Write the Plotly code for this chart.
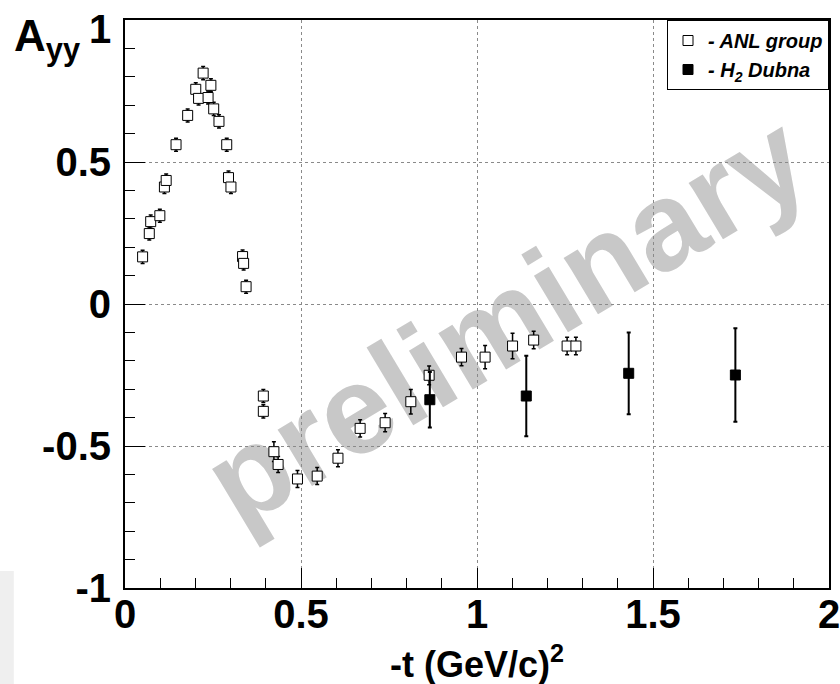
import plotly.graph_objects as go

# ---- data ----
anl_t = [0.050, 0.069, 0.073, 0.099, 0.112, 0.117, 0.145, 0.178, 0.201, 0.209,
         0.222, 0.236, 0.244, 0.252, 0.267, 0.289, 0.294, 0.301, 0.334, 0.337,
         0.344, 0.393, 0.393, 0.423, 0.435, 0.490, 0.546, 0.605, 0.668, 0.739,
         0.812, 0.864, 0.956, 1.023, 1.101, 1.161, 1.256, 1.281]
anl_ayy = [0.166, 0.248, 0.290, 0.311, 0.412, 0.435, 0.561, 0.664, 0.756, 0.724,
           0.813, 0.727, 0.770, 0.687, 0.643, 0.561, 0.445, 0.412, 0.167, 0.143,
           0.061, -0.324, -0.378, -0.520, -0.565, -0.616, -0.606, -0.543, -0.438, -0.418,
           -0.344, -0.251, -0.187, -0.187, -0.148, -0.127, -0.148, -0.148]
anl_err = [0.023, 0.023, 0.023, 0.023, 0.023, 0.023, 0.023, 0.023, 0.023, 0.023,
           0.023, 0.023, 0.023, 0.023, 0.023, 0.023, 0.023, 0.023, 0.023, 0.023,
           0.023, 0.023, 0.023, 0.035, 0.028, 0.030, 0.030, 0.030, 0.030, 0.032,
           0.043, 0.033, 0.030, 0.041, 0.045, 0.031, 0.031, 0.031]

dubna_t = [0.866, 1.140, 1.431, 1.734]
dubna_ayy = [-0.337, -0.324, -0.244, -0.250]
dubna_err = [0.098, 0.142, 0.144, 0.165]

x_ticks = [0, 0.5, 1, 1.5, 2]
x_ticklabels = ["0", "0.5", "1", "1.5", "2"]
y_ticks = [-1, -0.5, 0, 0.5, 1]
y_ticklabels = ["-1", "-0.5", "0", "0.5", "1"]

FONT = "Liberation Sans, Arial, Helvetica, sans-serif"
TICKFONT = dict(family=FONT, size=40, color="black", weight="bold")

fig = go.Figure()

fig.add_trace(go.Scatter(
    x=anl_t, y=anl_ayy, mode="markers", name="<b><i>- ANL group</i></b>",
    marker=dict(symbol="square", size=10, color="white",
                line=dict(color="black", width=1)),
    error_y=dict(type="data", array=anl_err, visible=True,
                 color="black", thickness=1.5, width=2),
))
fig.add_trace(go.Scatter(
    x=dubna_t, y=dubna_ayy, mode="markers", name="<b><i>- H<sub>2</sub> Dubna</i></b>",
    marker=dict(symbol="square", size=10, color="black",
                line=dict(color="black", width=1)),
    error_y=dict(type="data", array=dubna_err, visible=True,
                 color="black", thickness=2, width=2),
))

axis_common = dict(
    showline=True, linecolor="black", linewidth=2, mirror=True,
    ticks="inside", ticklen=20, tickwidth=1, tickcolor="black",
    showgrid=True, gridcolor="#8a8a8a", gridwidth=1, griddash="dot",
    zeroline=False, ticklabeloverflow="allow", automargin=False,
    tickfont=TICKFONT,
    minor=dict(ticks="inside", ticklen=10, tickwidth=1, tickcolor="black",
               dtick=0.1, showgrid=False),
)

fig.update_xaxes(range=[0, 2], tickmode="array", tickvals=x_ticks,
                 ticktext=x_ticklabels, ticklabelstandoff=-10, **axis_common)
# the top label "1" is placed slightly below its tick (ROOT style), see annotation
fig.update_yaxes(range=[-1, 1], tickmode="array", tickvals=y_ticks[:-1],
                 ticktext=y_ticklabels[:-1], ticklabelstandoff=4, **axis_common)
fig.add_annotation(text=y_ticklabels[-1], xref="paper", yref="y",
                   x=-0.017, y=y_ticks[-1], xanchor="right", yanchor="middle",
                   yshift=-9, showarrow=False, font=TICKFONT)

# watermark behind the data
fig.add_shape(
    type="line", xref="paper", yref="paper",
    x0=0.4100, y0=0.4010, x1=0.6534, y1=0.5823,
    line=dict(color="rgba(0,0,0,0)", width=0),
    layer="between",
    label=dict(text="preliminary", textangle=-31, textposition="middle",
               yanchor="middle", xanchor="center",
               font=dict(family=FONT, size=125, color="#c8c8c8", weight="bold")),
)

# faint grey strip bottom-left
fig.add_shape(type="rect", xref="paper", yref="paper",
              x0=-0.1776, x1=-0.158, y0=0.03, y1=-0.169,
              line=dict(width=0), fillcolor="#efefef", layer="below")

# axis titles
fig.add_annotation(text="<b>-t (GeV/c)<sup>2</sup></b>", xref="paper", yref="paper",
                   x=0.5, y=-0.131, xanchor="center", yanchor="middle",
                   showarrow=False, font=dict(family=FONT, size=36, color="black"))
fig.add_annotation(text="<b>A<sub>yy</sub></b>", xref="paper", yref="paper",
                   x=-0.160, y=1.02, xanchor="left", yanchor="top",
                   showarrow=False, font=dict(family=FONT, size=44, color="black"))

fig.update_layout(
    width=840, height=684,
    margin=dict(l=125, r=11, t=20, b=96, autoexpand=False),
    paper_bgcolor="white", plot_bgcolor="white",
    showlegend=True,
    legend=dict(x=1, y=1, xanchor="right", yanchor="top",
                bgcolor="white", bordercolor="black", borderwidth=1,
                font=dict(family=FONT, size=20, color="black"),
                itemwidth=30, tracegroupgap=0),
)

fig.write_html("out.html", config={"displayModeBar": False},
               post_script="document.body.style.margin='0px';")
